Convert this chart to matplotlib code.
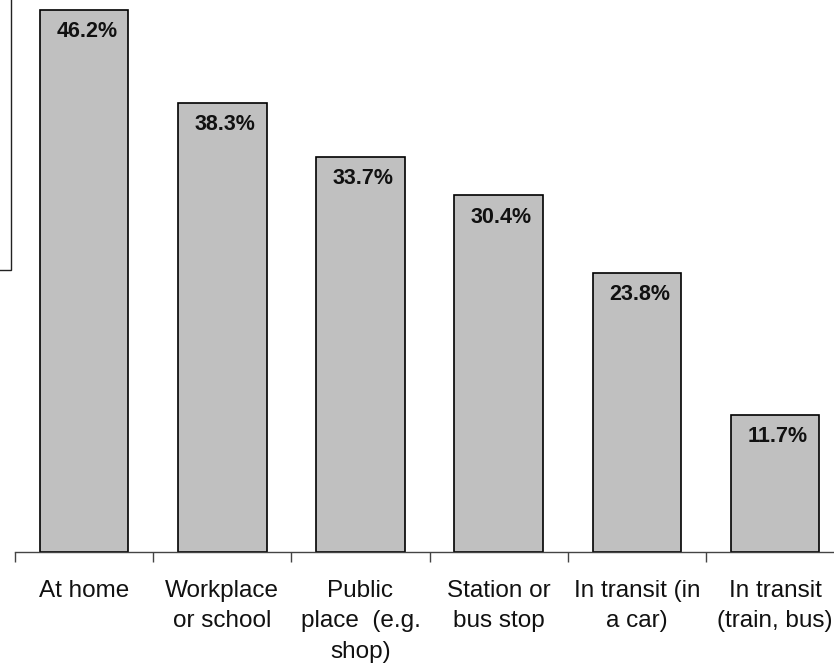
import matplotlib
matplotlib.use("Agg")
import matplotlib.pyplot as plt
from matplotlib.patches import Rectangle
import numpy as np

plt.rcParams['font.family'] = ['Liberation Sans', 'DejaVu Sans']

categories = ["At home", "Workplace\nor school", "Public\nplace  (e.g.\nshop)",
              "Station or\nbus stop", "In transit (in\na car)", "In transit\n(train, bus)"]
values = [46.2, 38.3, 33.7, 30.4, 23.8, 11.7]
value_labels = ["46.2%", "38.3%", "33.7%", "30.4%", "23.8%", "11.7%"]

W, H = 834, 663
fig = plt.figure(figsize=(W / 100, H / 100), dpi=100)

# axes: baseline at y=552px, left at x=15px, 138.2 px per category (runs past right edge)
ax_left, ax_bottom = 15, 552
cat_w = 138.2
ymax = 47.0
px_per_unit = 542 / 46.2
ax = fig.add_axes([ax_left / W, (H - ax_bottom) / H,
                   6 * cat_w / W, ymax * px_per_unit / H])

x = np.arange(len(values))
ax.bar(x, values, width=0.64, color="#c0c0c0", edgecolor="black", linewidth=1.2, zorder=2)
for xi, v, lab in zip(x, values, value_labels):
    ax.text(xi + 0.02, v - 1.85, lab, ha="center", va="center",
            fontsize=15.5, fontweight="bold", color="#111111", zorder=3)

ax.set_xlim(-0.5, len(values) - 0.5)
ax.set_ylim(0, ymax)
for side in ["top", "right", "left"]:
    ax.spines[side].set_visible(False)
ax.spines["bottom"].set_color("#444444")
ax.spines["bottom"].set_linewidth(1.0)
ax.set_yticks([])

ax.set_xticks(np.arange(-0.5, len(values) + 0.5, 1.0))
ax.set_xticklabels([])
ax.tick_params(axis="x", length=7, width=1.0, color="#444444", direction="out")
for xi, lab in zip(x, categories):
    ax.text(xi, -2.35, lab, ha="center", va="top", fontsize=17.5,
            linespacing=1.5, color="#111111", transform=ax.transData, clip_on=False)

# partial box cut off at the left edge
fig.add_artist(Rectangle((-100 / W, (H - 270) / H), 111 / W, 400 / H,
                         transform=fig.transFigure, fill=False,
                         edgecolor="#222222", linewidth=1.0))

fig.savefig("out.png", dpi=100)
